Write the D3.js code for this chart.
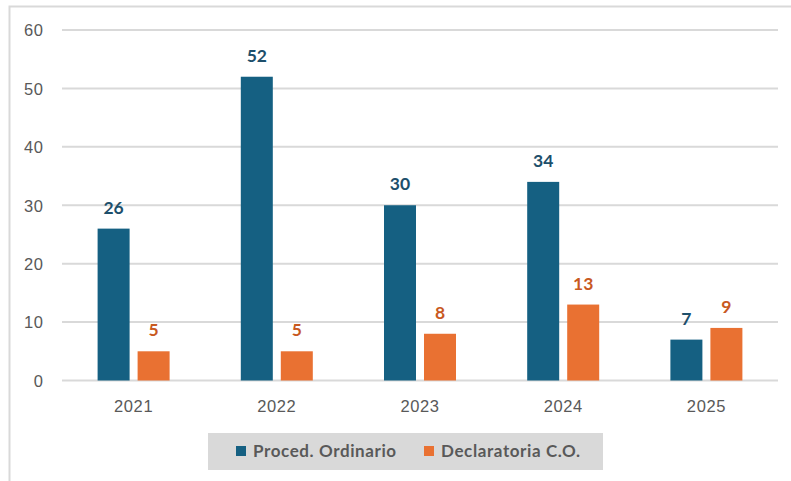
<!DOCTYPE html>
<html>
<head>
<meta charset="utf-8">
<script src="https://cdn.jsdelivr.net/npm/d3@7"></script>
<style>
  html, body { margin: 0; padding: 0; background: #fff; }
  svg { display: block; }
</style>
</head>
<body>
<svg id="chart" width="791" height="481"></svg>
<script>
const categories = ["2021", "2022", "2023", "2024", "2025"];
const seriesNames = ["Proced. Ordinario", "Declaratoria C.O."];
const procedOrdinario = [26, 52, 30, 34, 7];
const declaratoriaCO = [5, 5, 8, 13, 9];
const yTicks = [0, 10, 20, 30, 40, 50, 60];

const barColors = ["#156082", "#E97132"];
const labelColors = ["#1d4f6b", "#c8591f"];

(function () {
const svg = d3.select("#chart");
const W = 791, H = 481;

// outer frame
svg.append("rect").attr("x", 9.5).attr("y", 6.5).attr("width", W + 10).attr("height", H + 10)
  .attr("fill", "none").attr("stroke", "#d9d9d9").attr("stroke-width", 2);

const pLeft = 62, pRight = 778, pTop = 30, pBottom = 380.5;

const x = d3.scaleBand().domain(categories).range([pLeft, pRight]).paddingInner(0).paddingOuter(0);
const y = d3.scaleLinear().domain([0, 60]).range([pBottom, pTop]);

// gridlines
svg.append("g").selectAll("line").data(yTicks).join("line")
  .attr("x1", pLeft).attr("x2", pRight)
  .attr("y1", d => y(d)).attr("y2", d => y(d))
  .attr("stroke", "#d9d9d9").attr("stroke-width", 2);

// y axis labels
const yAxis = d3.axisLeft(y).tickValues(yTicks).tickSize(0).tickPadding(0);
const gy = svg.append("g").attr("transform", `translate(${43.5},0)`).call(yAxis);
gy.select(".domain").remove();
gy.selectAll("text").attr("font-family", "Liberation Sans, Arial, sans-serif")
  .attr("font-size", 16.5).attr("letter-spacing", 0.6).attr("fill", "#595959").attr("dy", "0.35em");

// x axis labels
const xAxis = d3.axisBottom(x).tickSize(0).tickPadding(0);
const gx = svg.append("g").attr("transform", `translate(0,${400})`).call(xAxis);
gx.select(".domain").remove();
gx.selectAll("text").attr("font-family", "Liberation Sans, Arial, sans-serif")
  .attr("font-size", 16.5).attr("letter-spacing", 0.6).attr("fill", "#595959").attr("dy", "0.75em");

// bars
const barW = 32, gap = 8;
const groupW = barW * 2 + gap;

const series = [procedOrdinario, declaratoriaCO];
series.forEach((vals, si) => {
  const g = svg.append("g");
  const data = categories.map((c, i) => ({ c, v: vals[i] }));
  const offset = (x.bandwidth() - groupW) / 2 + si * (barW + gap);
  g.selectAll("rect").data(data).join("rect")
    .attr("x", d => x(d.c) + offset)
    .attr("y", d => y(d.v))
    .attr("width", barW)
    .attr("height", d => y(0) - y(d.v))
    .attr("fill", barColors[si]);
  g.selectAll("text").data(data).join("text")
    .attr("x", d => x(d.c) + offset + barW / 2)
    .attr("y", d => y(d.v) - 15)
    .attr("text-anchor", "middle")
    .attr("font-family", "Lato, Liberation Sans, sans-serif")
    .attr("font-weight", "bold")
    .attr("font-size", 17.5)
    .attr("fill", labelColors[si])
    .text(d => d.v);
});

// legend
const lg = svg.append("g");
lg.append("rect").attr("x", 208).attr("y", 433).attr("width", 395).attr("height", 37).attr("fill", "#d9d9d9");
const legendItems = [{ name: seriesNames[0], x: 236 }, { name: seriesNames[1], x: 424 }];
legendItems.forEach((it, i) => {
  lg.append("rect").attr("x", it.x).attr("y", 446).attr("width", 10).attr("height", 10).attr("fill", barColors[i]);
  lg.append("text").attr("x", it.x + 17).attr("y", 457)
    .attr("font-family", "Lato, Liberation Sans, sans-serif").attr("font-weight", "bold")
    .attr("font-size", 17).attr("letter-spacing", 0.6).attr("fill", "#595959").text(it.name);
});
})();
</script>
</body>
</html>
